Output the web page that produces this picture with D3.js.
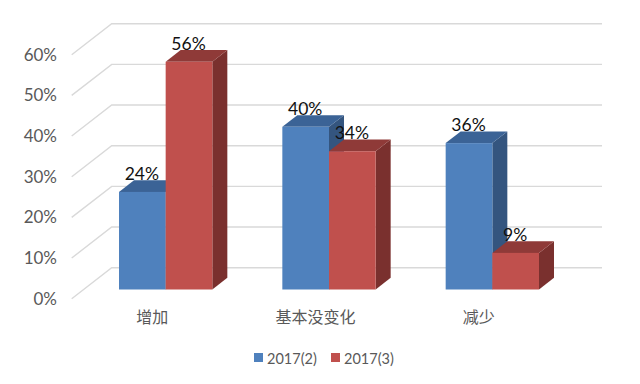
<!DOCTYPE html>
<html>
<head>
<meta charset="utf-8">
<script src="https://cdnjs.cloudflare.com/ajax/libs/d3/7.8.5/d3.min.js"></script>
<style>
  html, body { margin: 0; background: #fff; }
  text { font-family: Lato, "Noto Sans CJK SC", sans-serif; }
</style>
</head>
<body>
<div id="chart"></div>
<script>
const categories = ["增加", "基本没变化", "减少"];
const seriesNames = ["2017(2)", "2017(3)"];
const series1 = [24, 40, 36];
const series2 = [56, 34, 9];
const yTicks = [0, 10, 20, 30, 40, 50, 60];

const width = 640, height = 384;
// 3d look: floor depth of the walls and depth of the bars
const wallDx = 40, wallDy = -31;
const barDx = 15, barDy = -11.7;
const barLift = -9.2;

const colors = [
  { front: "#4f81bd", top: "#3b6396", side: "#34557f" },
  { front: "#c0504d", top: "#8f3a38", side: "#7a302e" }
];

const svg = d3.select("#chart").append("svg")
  .attr("width", width)
  .attr("height", height)
  .style("display", "block");

const y = d3.scaleLinear().domain([0, 60]).range([298.7, 54.7]);
const x = d3.scaleBand().domain(categories).range([84, 574])
  .paddingInner(0.4286).paddingOuter(0.2143);
const xSeries = d3.scaleBand().domain(seriesNames).range([0, x.bandwidth()]);

// Gridlines: slanted on the side wall, flat on the back wall
const grid = svg.append("g")
  .attr("fill", "none")
  .attr("stroke", "#d9d9d9")
  .attr("stroke-width", 1.4);
grid.selectAll("path")
  .data(yTicks)
  .enter()
  .append("path")
  .attr("d", d => `M71.7,${y(d)}L${71.7 + wallDx},${y(d) + wallDy}L602,${y(d) + wallDy}`);

// Value axis
const yAxis = svg.append("g")
  .attr("transform", "translate(60,0)")
  .call(d3.axisLeft(y).tickValues(yTicks).tickSize(0).tickPadding(3).tickFormat(d => d + "%"));
yAxis.select(".domain").remove();
yAxis.selectAll("text")
  .attr("fill", "#595959")
  .style("font-size", "17px")
  .attr("dy", "0.32em")
  .attr("y", 0);

// Bars, one series after the other so the red covers the blue side
const rows = [];
categories.forEach((c, i) => {
  rows.push({ cat: c, name: seriesNames[0], value: series1[i], color: colors[0] });
  rows.push({ cat: c, name: seriesNames[1], value: series2[i], color: colors[1] });
});

const bars = svg.selectAll(".bar")
  .data(rows)
  .enter()
  .append("g")
  .attr("class", "bar");

const left = d => x(d.cat) + xSeries(d.name);
const right = d => left(d) + xSeries.bandwidth();
const topY = d => y(d.value) + barLift;
const baseY = () => y(0) + barLift;

bars.append("path")
  .attr("fill", d => d.color.side)
  .attr("d", d => `M${right(d)},${topY(d)}L${right(d) + barDx},${topY(d) + barDy}L${right(d) + barDx},${baseY() + barDy}L${right(d)},${baseY()}Z`);
bars.append("path")
  .attr("fill", d => d.color.top)
  .attr("d", d => `M${left(d)},${topY(d)}L${left(d) + barDx},${topY(d) + barDy}L${right(d) + barDx},${topY(d) + barDy}L${right(d)},${topY(d)}Z`);
bars.append("rect")
  .attr("fill", d => d.color.front)
  .attr("x", left)
  .attr("y", topY)
  .attr("width", xSeries.bandwidth())
  .attr("height", d => baseY() - topY(d));

// Data labels go on top of every bar
svg.selectAll(".label")
  .data(rows)
  .enter()
  .append("text")
  .attr("class", "label")
  .attr("x", d => left(d) + xSeries.bandwidth() / 2 - 0.5)
  .attr("y", d => topY(d) - 12)
  .attr("text-anchor", "middle")
  .attr("fill", "#111")
  .style("font-size", "17.5px")
  .text(d => d.value + "%");

// Category axis
const xAxis = svg.append("g")
  .attr("transform", "translate(0,323)")
  .call(d3.axisBottom(x).tickSize(0).tickPadding(0));
xAxis.select(".domain").remove();
xAxis.selectAll("text")
  .attr("fill", "#595959")
  .attr("y", 0)
  .attr("dy", 0)
  .attr("dx", -13.5)
  .style("font-size", "16px")
  .style("font-family", '"Noto Sans CJK SC", sans-serif');

// Legend
const legend = svg.selectAll(".legend")
  .data(seriesNames)
  .enter()
  .append("g")
  .attr("class", "legend")
  .attr("transform", (d, i) => `translate(${254 + i * 77},0)`);
legend.append("rect")
  .attr("y", 353)
  .attr("width", 9)
  .attr("height", 9)
  .attr("fill", (d, i) => colors[i].front);
legend.append("text")
  .attr("x", 13)
  .attr("y", 363.5)
  .attr("fill", "#595959")
  .style("font-size", "14.5px")
  .text(d => d);
</script>
</body>
</html>
